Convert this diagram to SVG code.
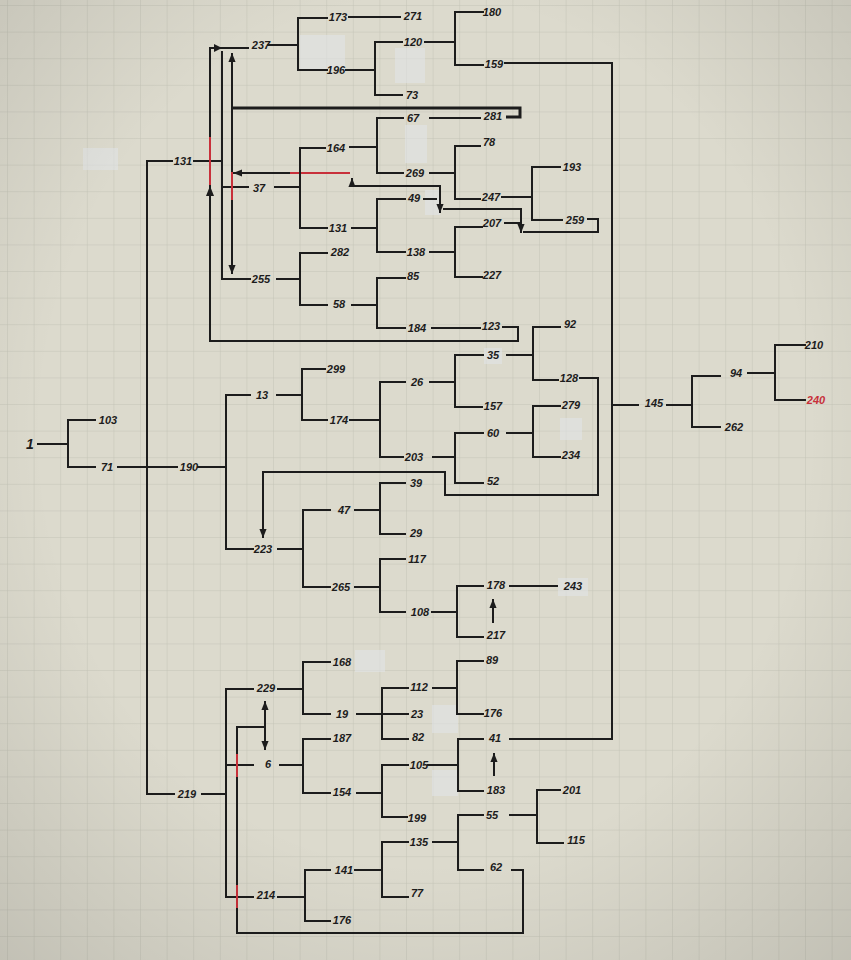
<svg xmlns="http://www.w3.org/2000/svg" width="851" height="960" viewBox="0 0 851 960">
<defs>
<pattern id="grid" x="8" y="6" width="26.6" height="26.6" patternUnits="userSpaceOnUse">
<path d="M26.6 0 V26.6 M0 26.6 H26.6" fill="none" stroke="#c3c3b7" stroke-width="1"/>
</pattern>
<radialGradient id="vig" cx="50%" cy="45%" r="75%">
<stop offset="60%" stop-color="#000" stop-opacity="0"/>
<stop offset="100%" stop-color="#000" stop-opacity="0.12"/>
</radialGradient>
<marker id="ah" viewBox="0 0 10 10" refX="9" refY="5" markerWidth="9" markerHeight="9" markerUnits="userSpaceOnUse" orient="auto-start-reverse">
<path d="M0 1 L10 5 L0 9 z" fill="#1c1c1c"/>
</marker>
<style>
.ln{fill:none;stroke:#1c1c1c;stroke-width:2;stroke-linecap:square}
.thk{fill:none;stroke:#1c1c1c;stroke-width:3}
.red{fill:none;stroke:#c8303a;stroke-width:2}
.patch{fill:#e2e5ea;opacity:0.55}
text{font-family:"Liberation Sans",Arial,sans-serif;font-size:11px;font-weight:bold;font-style:italic;fill:#1c1c1c;text-anchor:middle;dominant-baseline:central}
</style>
</defs>
<rect width="851" height="960" fill="#dcdacd"/>
<rect width="851" height="960" fill="url(#grid)"/>
<g id="patches">
<rect class="patch" x="300" y="35" width="45" height="35"/>
<rect class="patch" x="395" y="48" width="30" height="35"/>
<rect class="patch" x="83" y="148" width="35" height="22"/>
<rect class="patch" x="405" y="125" width="22" height="38"/>
<rect class="patch" x="425" y="190" width="15" height="25"/>
<rect class="patch" x="484" y="348" width="18" height="16"/>
<rect class="patch" x="560" y="418" width="22" height="22"/>
<rect class="patch" x="558" y="578" width="30" height="18"/>
<rect class="patch" x="355" y="650" width="30" height="22"/>
<rect class="patch" x="432" y="705" width="26" height="28"/>
<rect class="patch" x="432" y="770" width="26" height="26"/>
</g>
<g id="connectors">
<path class="ln" d="M38 444 H68 M68 420 V467 M68 420 H95 M68 467 H95 M118 467 H177"/>
<path class="ln" d="M147 161 V794 M147 161 H172 M147 794 H174"/>
<path class="ln" d="M198 467 H226 M226 395 V549 M226 395 H250 M226 549 H253"/>
<path class="ln" d="M194 161 H222"/>
<path class="ln" d="M210 48 H248"/>
<path d="M214 44 L222 48 L214 52 z" fill="#1c1c1c"/>
<path class="ln" d="M210 48 V341 H518 V327 H503"/>
<path d="M206 196 L210 186 L214 196 z" fill="#1c1c1c"/>
<path class="ln" d="M222 52 V279 H250"/>
<path class="ln" d="M232 54 V273" marker-start="url(#ah)" marker-end="url(#ah)"/>
<path class="ln" d="M222 187 H248"/>
<path class="thk" d="M232 108 H520 V117 H506"/>
<path class="ln" d="M290 173 H234" marker-end="url(#ah)"/>
<path class="ln" d="M352 179 V186 H440 V212" marker-start="url(#ah)" marker-end="url(#ah)"/>
<path class="ln" d="M424 199 H436"/>
<path class="ln" d="M444 209 H521 V232" marker-end="url(#ah)"/>
<path class="ln" d="M505 223 H521 M524 232 H598 V219 H588"/>
<path class="red" d="M210 137 V185 M232 172 V200 M290 173 H350"/>
<path class="ln" d="M268 45 H298 M298 18 V70 M298 18 H327 M298 70 H327"/>
<path class="ln" d="M349 17 H400"/>
<path class="ln" d="M346 70 H375 M375 42 V95 M375 42 H402 M375 95 H402"/>
<path class="ln" d="M425 42 H455 M455 12 V65 M455 12 H483 M455 65 H483"/>
<path class="ln" d="M505 63 H612 V739"/>
<path class="ln" d="M430 118 H480"/>
<path class="ln" d="M350 147 H377 M377 118 V173 M377 118 H403 M377 173 H403"/>
<path class="ln" d="M430 173 H455 M455 146 V199 M455 146 H480 M455 199 H480"/>
<path class="ln" d="M502 197 H532 M532 167 V220 M532 167 H560 M532 220 H562"/>
<path class="ln" d="M275 187 H300 M300 148 V228 M300 148 H325 M300 228 H327"/>
<path class="ln" d="M352 228 H377 M377 199 V252 M377 199 H405 M377 252 H405"/>
<path class="ln" d="M430 252 H455 M455 227 V277 M455 227 H482 M455 277 H482"/>
<path class="ln" d="M277 279 H300 M300 253 V305 M300 253 H327 M300 305 H327"/>
<path class="ln" d="M352 305 H377 M377 278 V328 M377 278 H405 M377 328 H405"/>
<path class="ln" d="M432 328 H480"/>
<path class="ln" d="M277 395 H302 M302 369 V420 M302 369 H325 M302 420 H327"/>
<path class="ln" d="M350 420 H380 M380 382 V457 M380 382 H405 M380 457 H403"/>
<path class="ln" d="M430 382 H455 M455 355 V407 M455 355 H483 M455 407 H482"/>
<path class="ln" d="M507 355 H533 M533 327 V380 M533 327 H560 M533 380 H558"/>
<path class="ln" d="M580 378 H598 V495 H445 V472 H263 V537" marker-end="url(#ah)"/>
<path class="ln" d="M433 457 H455 M455 433 V483 M455 433 H483 M455 483 H483"/>
<path class="ln" d="M507 433 H533 M533 406 V457 M533 406 H560 M533 457 H560"/>
<path class="ln" d="M278 549 H303 M303 510 V587 M303 510 H330 M303 587 H330"/>
<path class="ln" d="M355 510 H380 M380 483 V534 M380 483 H405 M380 534 H405"/>
<path class="ln" d="M355 587 H380 M380 559 V612 M380 559 H405 M380 612 H405"/>
<path class="ln" d="M432 612 H457 M457 586 V637 M457 586 H483 M457 637 H483"/>
<path class="ln" d="M510 586 H557"/>
<path class="ln" d="M493 622 V600" marker-end="url(#ah)"/>
<path class="ln" d="M612 405 H638 M667 405 H692 M692 376 V427 M692 376 H720 M692 427 H720"/>
<path class="ln" d="M748 373 H775 M775 345 V400 M775 345 H805 M775 400 H805"/>
<path class="ln" d="M202 794 H226 M226 689 V897 M226 689 H253 M226 765 H253 M226 897 H253"/>
<path class="ln" d="M278 689 H303 M303 662 V714 M303 662 H330 M303 714 H330"/>
<path class="ln" d="M357 714 H408 M382 688 V739 M382 688 H408 M382 739 H408"/>
<path class="ln" d="M433 688 H457 M457 661 V714 M457 661 H483 M457 714 H483"/>
<path class="ln" d="M510 739 H612 M458 739 V791 M458 739 H483 M458 791 H483 M428 765 H458"/>
<path class="ln" d="M280 765 H303 M303 739 V793 M303 739 H330 M303 793 H330"/>
<path class="ln" d="M357 793 H382 M382 765 V817 M382 765 H408 M382 817 H407"/>
<path class="ln" d="M494 775 V754" marker-end="url(#ah)"/>
<path class="ln" d="M265 702 V749" marker-start="url(#ah)" marker-end="url(#ah)"/>
<path class="ln" d="M265 727 H237 V933 H523 V870 H512"/>
<path class="red" d="M237 754 V777 M237 885 V908"/>
<path class="ln" d="M278 897 H305 M305 870 V921 M305 870 H330 M305 921 H330"/>
<path class="ln" d="M355 870 H382 M382 842 V897 M382 842 H408 M382 897 H408"/>
<path class="ln" d="M433 842 H458 M458 815 V870 M458 815 H483 M458 870 H483"/>
<path class="ln" d="M510 815 H537 M537 790 V843 M537 790 H560 M537 843 H563"/>
</g>
<g id="n1"><text x="30" y="444" style="font-size:14px">1</text></g>
<g id="n103"><text x="108" y="420">103</text></g>
<g id="n71"><text x="107" y="467">71</text></g>
<g id="n190"><text x="189" y="467">190</text></g>
<g id="n131a"><text x="183" y="161">131</text></g>
<g id="n219"><text x="187" y="794">219</text></g>
<g id="n237"><text x="261" y="45">237</text></g>
<g id="n173"><text x="338" y="17">173</text></g>
<g id="n271"><text x="413" y="16">271</text></g>
<g id="n196"><text x="336" y="70">196</text></g>
<g id="n120"><text x="413" y="42">120</text></g>
<g id="n73"><text x="412" y="95">73</text></g>
<g id="n180"><text x="492" y="12">180</text></g>
<g id="n159"><text x="494" y="64">159</text></g>
<g id="n67"><text x="413" y="118">67</text></g>
<g id="n281"><text x="493" y="116">281</text></g>
<g id="n164"><text x="336" y="148">164</text></g>
<g id="n269"><text x="415" y="173">269</text></g>
<g id="n78"><text x="489" y="142">78</text></g>
<g id="n247"><text x="491" y="197">247</text></g>
<g id="n193"><text x="572" y="167">193</text></g>
<g id="n259"><text x="575" y="220">259</text></g>
<g id="n37"><text x="259" y="188">37</text></g>
<g id="n131b"><text x="338" y="228">131</text></g>
<g id="n49"><text x="414" y="198">49</text></g>
<g id="n138"><text x="416" y="252">138</text></g>
<g id="n207"><text x="492" y="223">207</text></g>
<g id="n227"><text x="492" y="275">227</text></g>
<g id="n255"><text x="261" y="279">255</text></g>
<g id="n282"><text x="340" y="252">282</text></g>
<g id="n58"><text x="339" y="304">58</text></g>
<g id="n85"><text x="413" y="276">85</text></g>
<g id="n184"><text x="417" y="328">184</text></g>
<g id="n123"><text x="491" y="326">123</text></g>
<g id="n92"><text x="570" y="324">92</text></g>
<g id="n35"><text x="493" y="355">35</text></g>
<g id="n128"><text x="569" y="378">128</text></g>
<g id="n26"><text x="417" y="382">26</text></g>
<g id="n157"><text x="493" y="406">157</text></g>
<g id="n13"><text x="262" y="395">13</text></g>
<g id="n299"><text x="336" y="369">299</text></g>
<g id="n174"><text x="339" y="420">174</text></g>
<g id="n203"><text x="414" y="457">203</text></g>
<g id="n60"><text x="493" y="433">60</text></g>
<g id="n52"><text x="493" y="481">52</text></g>
<g id="n279"><text x="571" y="405">279</text></g>
<g id="n234"><text x="571" y="455">234</text></g>
<g id="n223"><text x="263" y="549">223</text></g>
<g id="n47"><text x="344" y="510">47</text></g>
<g id="n39"><text x="416" y="483">39</text></g>
<g id="n29"><text x="416" y="533">29</text></g>
<g id="n265"><text x="341" y="587">265</text></g>
<g id="n117"><text x="417" y="559">117</text></g>
<g id="n108"><text x="420" y="612">108</text></g>
<g id="n178"><text x="496" y="585">178</text></g>
<g id="n243"><text x="573" y="586">243</text></g>
<g id="n217"><text x="496" y="635">217</text></g>
<g id="n145"><text x="654" y="403">145</text></g>
<g id="n94"><text x="736" y="373">94</text></g>
<g id="n262"><text x="734" y="427">262</text></g>
<g id="n210"><text x="814" y="345">210</text></g>
<g id="n240"><text x="816" y="400" style="fill:#c8303a">240</text></g>
<g id="n229"><text x="266" y="688">229</text></g>
<g id="n168"><text x="342" y="662">168</text></g>
<g id="n19"><text x="342" y="714">19</text></g>
<g id="n112"><text x="419" y="687">112</text></g>
<g id="n23"><text x="417" y="714">23</text></g>
<g id="n82"><text x="418" y="737">82</text></g>
<g id="n89"><text x="492" y="660">89</text></g>
<g id="n176a"><text x="493" y="713">176</text></g>
<g id="n41"><text x="495" y="738">41</text></g>
<g id="n105"><text x="419" y="765">105</text></g>
<g id="n183"><text x="496" y="790">183</text></g>
<g id="n6"><text x="268" y="764">6</text></g>
<g id="n187"><text x="342" y="738">187</text></g>
<g id="n154"><text x="342" y="792">154</text></g>
<g id="n199"><text x="417" y="818">199</text></g>
<g id="n201"><text x="572" y="790">201</text></g>
<g id="n55"><text x="492" y="815">55</text></g>
<g id="n115"><text x="576" y="840">115</text></g>
<g id="n62"><text x="496" y="867">62</text></g>
<g id="n135"><text x="419" y="842">135</text></g>
<g id="n77"><text x="417" y="893">77</text></g>
<g id="n141"><text x="344" y="870">141</text></g>
<g id="n176b"><text x="342" y="920">176</text></g>
<g id="n214"><text x="266" y="895">214</text></g>
<rect width="851" height="960" fill="url(#vig)" pointer-events="none"/>
</svg>
